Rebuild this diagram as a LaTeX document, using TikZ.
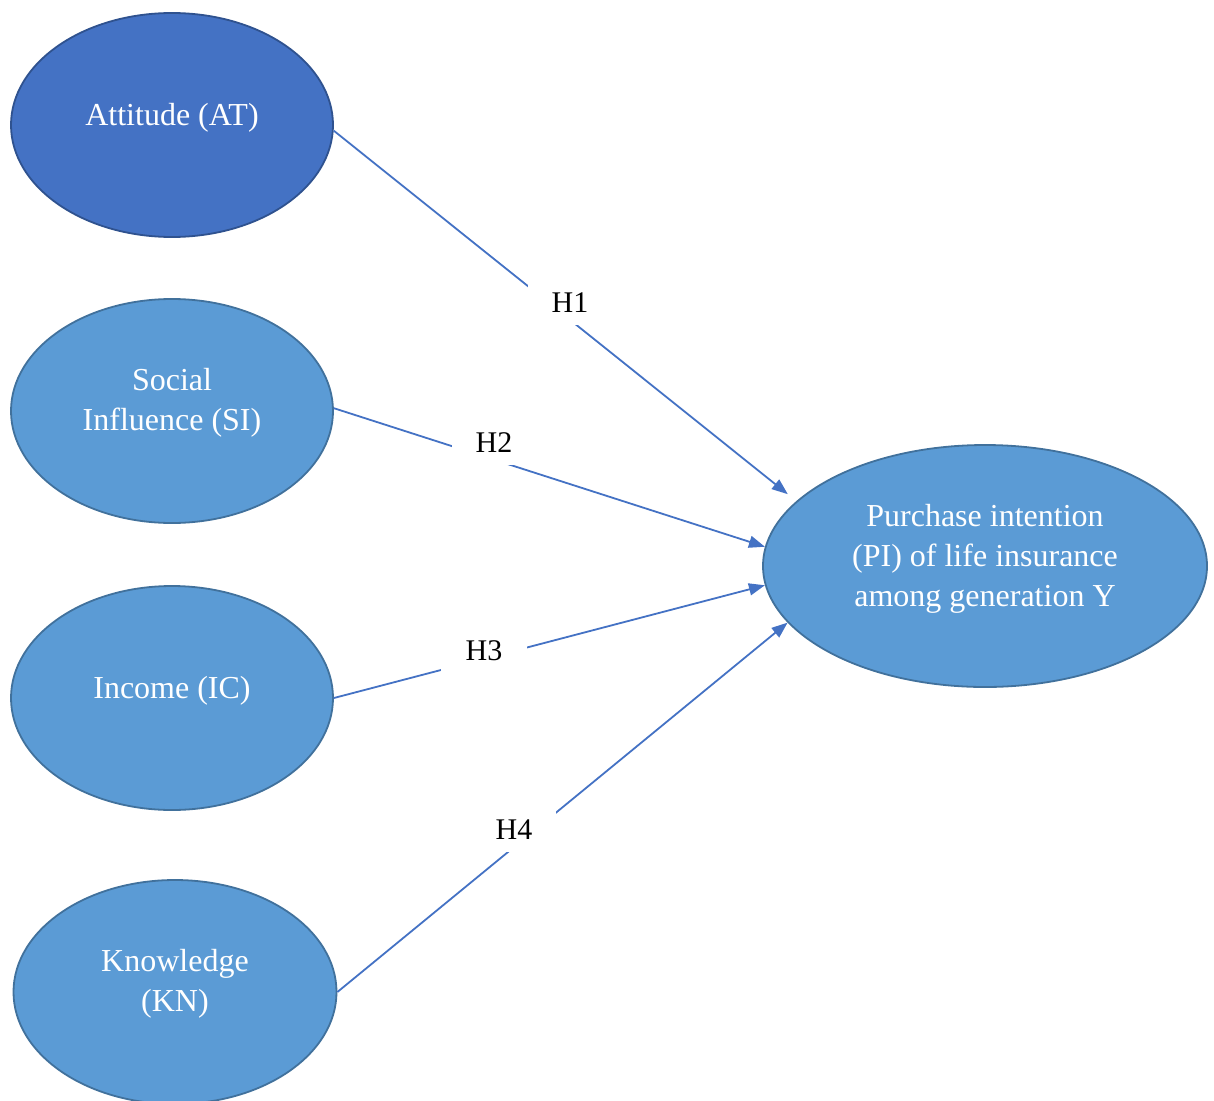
\documentclass[tikz,border=0pt]{standalone}
\usepackage{fontspec}
\setmainfont{Liberation Serif}
\usetikzlibrary{shapes.geometric,arrows.meta}
\definecolor{darkfill}{HTML}{4472C4}
\definecolor{darkedge}{HTML}{2F528F}
\definecolor{lightfill}{HTML}{5B9BD5}
\definecolor{lightedge}{HTML}{41719C}
\definecolor{linecol}{HTML}{4472C4}
\tikzset{
  construct/.style={ellipse, draw=lightedge, fill=lightfill, line width=1.8pt, inner sep=0pt, minimum width=322pt, minimum height=224pt},
  darkconstruct/.style={construct, draw=darkedge, fill=darkfill},
  ctext/.style={text=white, align=center, font=\fontsize{32}{40}\selectfont, inner sep=0pt},
  conn/.style={draw=linecol, line width=1.8pt, -{Triangle[length=16pt,width=12pt]}},
  hlabel/.style={fill=white, text=black, font=\fontsize{30}{36}\selectfont, minimum width=84pt, minimum height=44pt, inner sep=0pt}
}
\begin{document}
\begin{tikzpicture}[x=1pt,y=-1pt]
\useasboundingbox (0,0) rectangle (1214,1100);
\begin{scope}
\clip (0,0) rectangle (1214,1100);
\node[darkconstruct] (at) at (172,125) {};
\node[construct] (si) at (172,411) {};
\node[construct] (ic) at (172,698) {};
\node[construct, minimum width=323pt] (kn) at (175,992) {};
\node[construct, minimum width=444pt, minimum height=242pt] (pi) at (985,566) {};
\end{scope}
\node[ctext] (attext) at (172,118) {Attitude (AT)};
\node[ctext] (sitext) at (172,403) {Social\\Influence (SI)};
\node[ctext] (ictext) at (172,691) {Income (IC)};
\node[ctext] (kntext) at (175,984) {Knowledge\\(KN)};
\node[ctext] (pitext) at (985,559) {Purchase intention\\(PI) of life insurance\\among generation Y};
\draw[conn, shorten >=11pt] (at.-2) -- (pi.161);
\draw[conn] (si.1) -- (pi.175);
\draw[conn] (ic.east) -- (pi.185);
\draw[conn] (kn.east) -- (pi.196);
\node[hlabel] (h1) at (570,303) {H1};
\node[hlabel] (h2) at (494,443) {H2};
\node[hlabel, minimum width=86pt] (h3) at (484,651) {H3};
\node[hlabel] (h4) at (514,830) {H4};
\end{tikzpicture}
\end{document}
